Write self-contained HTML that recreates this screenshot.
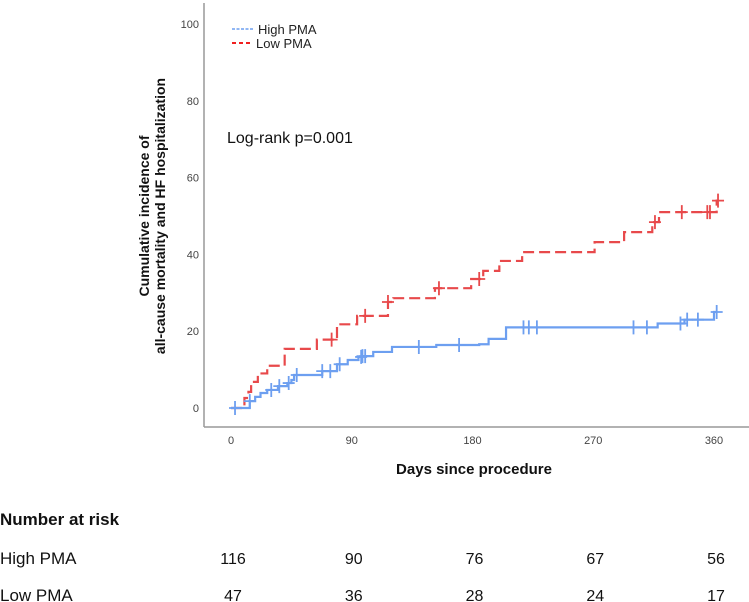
<!DOCTYPE html>
<html><head><meta charset="utf-8"><style>
html,body{margin:0;padding:0;background:#fff;}
body{width:749px;height:602px;overflow:hidden;position:relative;font-family:"Liberation Sans",Arial,sans-serif;}
svg{position:absolute;left:0;top:0;}
</style></head><body>
<svg id="chart" width="749" height="602"></svg>
<script>
const xTicks=[0,90,180,270,360];
const yTicks=[0,20,40,60,80,100];
const highDays=[0,14,18,22,27,35,42,45,47,68,79,87,95,98,106,120,153,185,192,205,318,338,360];
const highVals=[0,1.8,2.9,3.9,4.7,5.7,6.5,7.3,8.6,9.6,11.4,12.5,13.3,13.5,14.6,15.9,16.4,16.6,18,21,22,23,25];
const highCens=[3,14,30,36,43,49,68,74,81,97,98,100,140,170,218,222,228,300,310,335,340,348,362];
const lowDays=[0,10,13,15,20,27,40,64,79,94,117,121,152,179,188,200,217,271,293,314,319,362];
const lowVals=[0,2.6,4.2,6.8,9,11,15.4,17.8,21.8,24,27.6,28.6,31.2,33.6,35.7,38.3,40.6,43.2,45.8,48.4,51,54];
const lowCens=[75,100,117,155,185,316,336,355,357,363];
const riskHigh=[116,90,76,67,56];
const riskLow=[47,36,28,24,17];

const X=d=>231+d*(714-231)/360;
const Y=v=>408-v*(408-24)/100;
const svg=document.getElementById('chart');
const NS='http://www.w3.org/2000/svg';
function mk(tag,attrs,parent){const e=document.createElementNS(NS,tag);for(const k in attrs)e.setAttribute(k,attrs[k]);(parent||svg).appendChild(e);return e;}
function txt(s,attrs){const e=mk('text',attrs);e.textContent=s;return e;}

// axes
let ax=mk('line',{x1:204,y1:3,x2:204,y2:427,stroke:'#999','stroke-width':1.5});


let bx=mk('line',{x1:204,y1:427,x2:749,y2:427,stroke:'#999','stroke-width':1.5});



yTicks.forEach(v=>{
  const t=txt(String(v),{x:199,y:Y(v)+4,'text-anchor':'end','font-size':11,fill:'#444'});
  
  
});
xTicks.forEach(d=>{
  const t=txt(String(d),{x:X(d),y:444,'text-anchor':'middle','font-size':11,fill:'#444'});
  
  
});

function stepVal(days,vals,d){let v=vals[0];for(let i=0;i<days.length;i++){if(days[i]<=d)v=vals[i];}return v;}
function series(days,vals,cens,color,dash,name){
  let d='M'+X(days[0])+','+Y(vals[0]);
  for(let i=1;i<days.length;i++){d+=' H'+X(days[i])+' V'+Y(vals[i]);}
  const end=Math.max(days[days.length-1],cens[cens.length-1]);
  d+=' H'+X(end);
  const p=mk('path',{d:d,fill:'none',stroke:color,'stroke-width':2.2});
  if(dash)p.setAttribute('stroke-dasharray',dash);
  
  
  cens.forEach(c=>{
    const cx=X(c),cy=Y(stepVal(days,vals,c));
    const m=mk('path',{d:`M${cx-6},${cy} H${cx+6} M${cx},${cy-7} V${cy+7}`,stroke:color,'stroke-width':1.8,fill:'none'});
    
    
  });
}
series(lowDays,lowVals,lowCens,'#e8494b','11 5','low-pma');
series(highDays,highVals,highCens,'#6d9ff0',null,'high-pma');

// legend
let l1=mk('line',{x1:232,y1:29,x2:253,y2:29,stroke:'#6d9ff0','stroke-width':1.6,'stroke-dasharray':'3 1.5'});


let t1=txt('High PMA',{x:258,y:34,'font-size':13,fill:'#222'});


let l2=mk('line',{x1:232,y1:43,x2:253,y2:43,stroke:'#e00','stroke-width':1.8,'stroke-dasharray':'4 3'});


let t2=txt('Low PMA',{x:256,y:48,'font-size':13,fill:'#222'});



let lr=txt('Log-rank p=0.001',{x:227,y:143,'font-size':16,fill:'#111'});



// axis titles
let yt=txt('',{transform:'translate(152,216) rotate(-90)','text-anchor':'middle','font-size':14,'font-weight':'bold',fill:'#111'});


const ts1=mk('tspan',{x:0,dy:-3},yt);ts1.textContent='Cumulative incidence of';
const ts2=mk('tspan',{x:0,dy:16},yt);ts2.textContent='all-cause mortality and HF hospitalization';
let xt=txt('Days since procedure',{x:474,y:474,'text-anchor':'middle','font-size':15,'font-weight':'bold',fill:'#111'});



// risk table
let nr=txt('Number at risk',{x:0,y:525,'font-size':17,'font-weight':'bold',fill:'#111'});


let rh=txt('High PMA',{x:0,y:564,'font-size':17,fill:'#111'});


let rl=txt('Low PMA',{x:0,y:601,'font-size':17,fill:'#111'});


xTicks.forEach((d,i)=>{
  const a=txt(String(riskHigh[i]),{x:X(d)+2,y:564,'text-anchor':'middle','font-size':16,fill:'#111'});
  
  
  const b=txt(String(riskLow[i]),{x:X(d)+2,y:601,'text-anchor':'middle','font-size':16,fill:'#111'});
  
  
});
</script>
</body></html>
